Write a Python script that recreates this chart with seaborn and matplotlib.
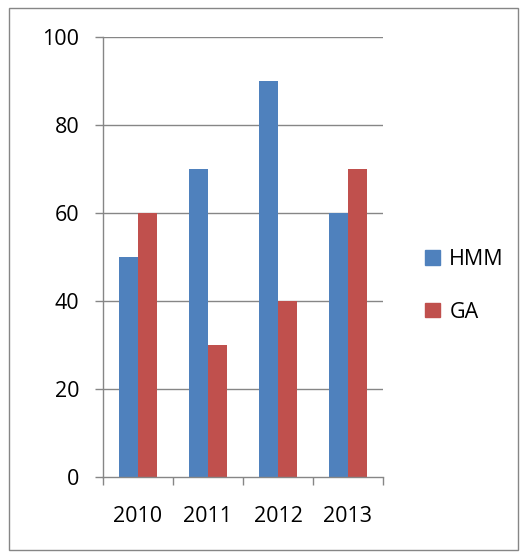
import matplotlib
matplotlib.use("Agg")
import matplotlib.pyplot as plt
import matplotlib.patches as mpatches
from matplotlib.ticker import FixedLocator
import seaborn as sns
import pandas as pd

years = ["2010", "2011", "2012", "2013"]
hmm = [50, 70, 90, 60]
ga = [60, 30, 40, 70]
series_names = ["HMM", "GA"]
colors = ["#4F81BD", "#C0504D"]

df = pd.DataFrame({
    "Year": years * 2,
    "Value": hmm + ga,
    "Series": [series_names[0]] * 4 + [series_names[1]] * 4,
})

sns.set_style("white")
plt.rcParams["font.family"] = ["Open Sans", "DejaVu Sans"]

fig = plt.figure(figsize=(5.27, 5.6), dpi=100)
ax = fig.add_axes([103 / 527, 83 / 560, 280 / 527, 440 / 560])

sns.barplot(data=df, x="Year", y="Value", hue="Series", palette=colors,
            width=0.557, gap=0, ax=ax, saturation=1, edgecolor="none",
            linewidth=0, zorder=3)

grid_c = "#868686"
ax.set_ylim(0, 100)
ax.set_xlim(-0.5, 3.5)
ax.set_yticks([0, 20, 40, 60, 80, 100])
for y in [20, 40, 60, 80, 100]:
    ax.axhline(y, color=grid_c, lw=1.0, zorder=1)
ax.set_xlabel("")
ax.set_ylabel("")
for s in ["top", "right"]:
    ax.spines[s].set_visible(False)
for s in ["left", "bottom"]:
    ax.spines[s].set_color(grid_c)
    ax.spines[s].set_linewidth(1.0)
    ax.spines[s].set_zorder(4)

fs = 15.5
ax.tick_params(axis="y", length=6, width=1.0, color=grid_c, direction="out",
               labelsize=fs, pad=11, left=True, labelcolor="black")
ax.tick_params(axis="x", which="major", length=0, labelsize=fs, pad=21,
               labelcolor="black")
ax.xaxis.set_minor_locator(FixedLocator([-0.5, 0.5, 1.5, 2.5, 3.5]))
ax.tick_params(axis="x", which="minor", length=6, width=1.0, color=grid_c,
               direction="out", bottom=True)

handles = [mpatches.Patch(color=c) for c in colors]
ax.legend(handles, series_names, loc="center left",
          bbox_to_anchor=(425 / 527, 1 - 286 / 560), bbox_transform=fig.transFigure,
          frameon=False, fontsize=fs, handlelength=0.68, handleheight=0.68,
          handletextpad=0.45, labelspacing=1.45, borderaxespad=0, borderpad=0,
          labelcolor="black")

fig.add_artist(mpatches.Rectangle((9 / 527, 1 - 550 / 560), 509 / 527, 542 / 560,
                                  transform=fig.transFigure, fill=False,
                                  edgecolor="#868686", lw=1.0))

fig.savefig("out.png", dpi=100, facecolor="white")
